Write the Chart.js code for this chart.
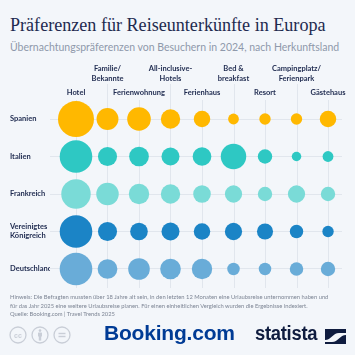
<!DOCTYPE html>
<html>
<head>
<meta charset="utf-8">
<script src="https://cdn.jsdelivr.net/npm/chart.js@4/dist/chart.umd.min.js"></script>
<style>
  html, body { margin: 0; padding: 0; }
  body { width: 355px; height: 355px; background: #f3f6fa; position: relative; overflow: hidden; font-family: Lato, "Open Sans", sans-serif; }
  #title { position: absolute; left: 10px; top: 15px; font-family: "Liberation Serif", serif; font-size: 18.1px; color: #1e2a4f; white-space: nowrap; }
  #subtitle { position: absolute; left: 10px; top: 41px; font-size: 10.5px; color: #8f99ab; white-space: nowrap; }
  #chartbox { position: absolute; left: 0; top: 55px; width: 360px; height: 251px; }
  #note { position: absolute; left: 10px; top: 293px; font-size: 5.8px; line-height: 8.6px; color: #7d8594; white-space: nowrap; }
  #cc { position: absolute; left: 9px; top: 326px; }
  #booking { position: absolute; left: 104px; top: 321px; font-family: "Liberation Sans", Arial, sans-serif; font-weight: 700; font-size: 21px; color: #003b95; letter-spacing: -0.2px; white-space: nowrap; }
  #statista { position: absolute; left: 255px; top: 322px; font-family: "Liberation Sans", Arial, sans-serif; font-weight: 700; font-size: 20px; color: #0f1c3f; white-space: nowrap; transform: scaleX(0.92); transform-origin: left top; letter-spacing: -0.3px; }
  #slogo { position: absolute; left: 325px; top: 329px; }
</style>
</head>
<body>
<div id="title">Präferenzen für Reiseunterkünfte in Europa</div>
<div id="subtitle">Übernachtungspräferenzen von Besuchern in 2024, nach Herkunftsland</div>
<div id="chartbox"><canvas id="c"></canvas></div>
<div id="note">Hinweis: Die Befragten mussten über 18 Jahre alt sein, in den letzten 12 Monaten eine Urlaubsreise unternommen haben und<br>für das Jahr 2025 eine weitere Urlaubsreise planen. Für einen einheitlichen Vergleich wurden die Ergebnisse indexiert.<br>Quelle: Booking.com | Travel Trends 2025</div>
<svg id="cc" width="64" height="18" viewBox="0 0 64 18">
  <g fill="none" stroke="#c9ced7" stroke-width="1.3">
    <circle cx="9" cy="9" r="8"/>
    <circle cx="31" cy="9" r="8"/>
    <circle cx="53" cy="9" r="8"/>
  </g>
  <text x="9" y="11.5" text-anchor="middle" font-family="Liberation Sans, Arial" font-weight="700" font-size="7" fill="#c9ced7">cc</text>
  <g fill="#c9ced7">
    <circle cx="31" cy="4.6" r="1.3"/>
    <rect x="29" y="6.4" width="4" height="4.2" rx="0.6"/>
    <rect x="29.8" y="10" width="2.4" height="4.6"/>
    <rect x="49.5" y="6.8" width="7" height="1.4"/>
    <rect x="49.5" y="9.8" width="7" height="1.4"/>
  </g>
</svg>
<div id="booking">Booking.com</div>
<div id="statista">statista</div>
<svg id="slogo" width="21" height="15" viewBox="0 0 21 15">
  <rect width="21" height="15" fill="#0f1c3f"/>
  <path d="M0 11 C6 11, 8 4, 14 4 L21 4 L21 6 C15 6, 13 13, 7 13 L0 13 Z" fill="#f3f6fa"/>
</svg>
<script>
// ---- data ----
const accommodations = ["Hotel", "Familie/Bekannte", "Ferienwohnung", "All-inclusive-Hotels", "Ferienhaus", "Bed & breakfast", "Resort", "Campingplatz/Ferienpark", "Gästehaus"];
const accommodationLines = [["Hotel"], ["Familie/", "Bekannte"], ["Ferienwohnung"], ["All-inclusive-", "Hotels"], ["Ferienhaus"], ["Bed &", "breakfast"], ["Resort"], ["Campingplatz/", "Ferienpark"], ["Gästehaus"]];
const countries = ["Spanien", "Italien", "Frankreich", "Vereinigtes Königreich", "Deutschland"];
const countryLines = [["Spanien"], ["Italien"], ["Frankreich"], ["Vereinigtes", "Königreich"], ["Deutschland"]];
// index values (estimated, relative to Spanien/Hotel = 100)
const spanien      = [100, 37, 43, 29, 21,  9, 10, 10, 21];
const italien      = [ 82, 28, 30, 25, 27, 50, 16,  7,  9];
const frankreich   = [ 67, 39, 32, 29, 24, 23, 16, 23, 16];
const vereinigtesKoenigreich = [ 82, 28, 24, 25, 21, 23, 20, 14, 10];
const deutschland  = [ 82, 30, 36, 33, 32, 12, 12, 14, 16];
const countryValues = [spanien, italien, frankreich, vereinigtesKoenigreich, deutschland];
const countryColors = ["#ffb800", "#2ec8c3", "#7adbd7", "#1b84c6", "#69acd8"];

const MAX_R = 18;
const radiusFor = v => MAX_R * Math.sqrt(v / 100);

const datasets = countries.map((name, row) => ({
  label: name,
  data: countryValues[row].map((v, col) => ({ x: col, y: row, r: radiusFor(v) })),
  backgroundColor: countryColors[row],
  hoverBackgroundColor: countryColors[row],
  borderWidth: 0,
  hoverBorderWidth: 0,
  hoverRadius: 0
}));

const GRID = "#e1e6ed";
const labelFont = { family: "Lato, 'Open Sans', sans-serif", size: 7.5, weight: "700" };
const NAVY = "#1e2a4f";

const colGrid = {
  id: "colGrid",
  beforeDatasetsDraw(chart) {
    const { ctx, chartArea } = chart;
    const xs = chart.scales.x, x2 = chart.scales.x2;
    ctx.save();
    ctx.strokeStyle = GRID;
    ctx.lineWidth = 1;
    accommodations.forEach((_, i) => {
      const px = Math.round(xs.getPixelForValue(i)) + 0.5;
      const top = (i % 2 === 1) ? x2.bottom - 1 : chartArea.top;
      ctx.beginPath();
      ctx.moveTo(px, top);
      ctx.lineTo(px, chartArea.bottom);
      ctx.stroke();
    });
    ctx.restore();
  }
};

const fixedTicks = (n) => (scale) => { scale.ticks = Array.from({ length: n }, (_, i) => ({ value: i })); };

new Chart(document.getElementById("c"), {
  type: "bubble",
  data: { datasets },
  plugins: [colGrid],
  options: {
    responsive: true,
    maintainAspectRatio: false,
    animation: false,
    events: [],
    layout: { padding: { left: 10, right: 18, top: 0, bottom: 18 } },
    plugins: { legend: { display: false }, tooltip: { enabled: false } },
    scales: {
      x: {
        type: "linear", position: "top", weight: 0,
        min: -0.825, max: 8.444,
        afterBuildTicks: fixedTicks(accommodations.length),
        afterFit: s => { s.height = 15; },
        grid: { display: false, drawTicks: false },
        border: { display: false },
        ticks: {
          autoSkip: false, maxRotation: 0, padding: 3,
          color: NAVY, font: labelFont,
          callback: (v) => (v % 2 === 0 ? accommodationLines[v] : "")
        }
      },
      x2: {
        type: "linear", position: "top", weight: 1,
        min: -0.825, max: 8.444,
        afterBuildTicks: fixedTicks(accommodations.length),
        afterFit: s => { s.height = 30; },
        grid: { display: false, drawTicks: false },
        border: { display: false },
        ticks: {
          autoSkip: false, maxRotation: 0, padding: 2,
          color: NAVY, font: { ...labelFont, lineHeight: 1.3 },
          callback: (v) => (v % 2 === 1 ? accommodationLines[v] : "")
        }
      },
      y: {
        type: "linear", reverse: true,
        min: -0.507, max: 4.507,
        afterBuildTicks: fixedTicks(countries.length),
        afterFit: s => { s.width = 40; },
        grid: { color: GRID, drawTicks: false },
        border: { display: false },
        ticks: {
          crossAlign: "far", padding: 0,
          color: NAVY, font: { ...labelFont, lineHeight: 1.2 },
          callback: (v) => countryLines[v]
        }
      }
    }
  }
});
</script>
</body>
</html>
